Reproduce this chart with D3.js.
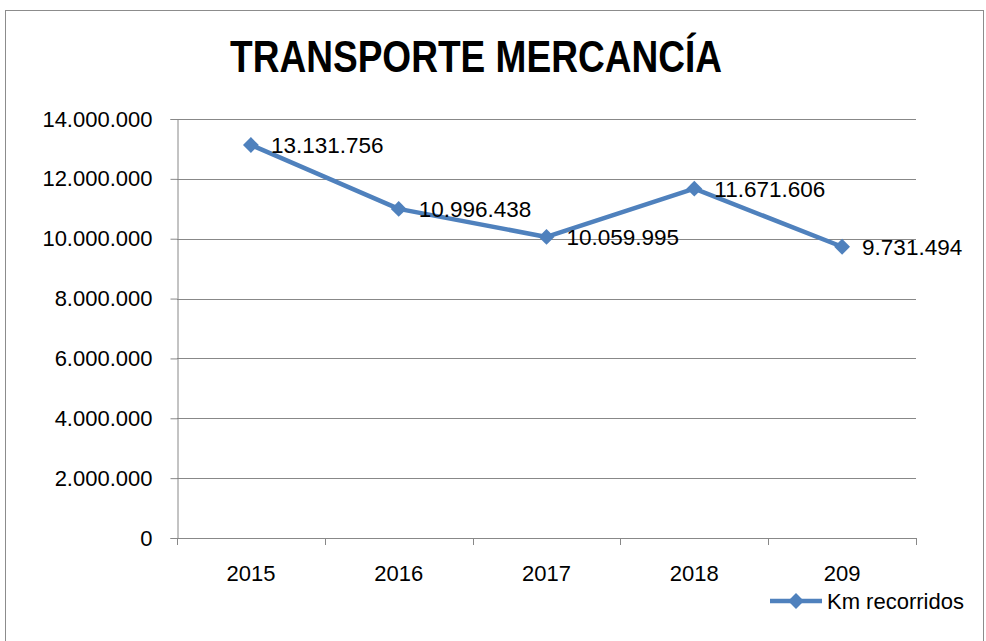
<!DOCTYPE html>
<html>
<head>
<meta charset="utf-8">
<script src="https://cdn.jsdelivr.net/npm/d3@7"></script>
<style>
  body { margin: 0; background: #fff; }
  svg text { font-family: "Liberation Sans", sans-serif; fill: #000; }
</style>
</head>
<body>
<svg id="chart" width="986" height="641"></svg>
<script>
// data
const years = ["2015", "2016", "2017", "2018", "209"];
const kmRecorridos = [13131756, 10996438, 10059995, 11671606, 9731494];
const yTicks = [0, 2000000, 4000000, 6000000, 8000000, 10000000, 12000000, 14000000];
const seriesName = "Km recorridos";
const chartTitle = "TRANSPORTE MERCANCÍA";

const blue = "#4f81bd";
const grid = "#888888";

const svg = d3.select("#chart");

// outer frame
svg.append("rect")
  .attr("x", 5.5).attr("y", 10.5)
  .attr("width", 978).attr("height", 640)
  .attr("fill", "none").attr("stroke", "#8c8c8c");

const plot = { left: 177, right: 916, top: 119, bottom: 538 };

const x = d3.scaleBand().domain(years).range([plot.left, plot.right]);
const y = d3.scaleLinear().domain([0, 14000000]).range([plot.bottom, plot.top]);

const fmt = (v) => d3.format(",")(v).replace(/,/g, ".");

svg.append("text")
  .attr("x", 230).attr("y", 72)
  .attr("textLength", 492)
  .attr("lengthAdjust", "spacingAndGlyphs")
  .style("font-size", "44px")
  .style("font-weight", "bold")
  .text(chartTitle);

// gridlines
svg.append("g")
  .selectAll("line")
  .data(yTicks.slice(1))
  .join("line")
  .attr("x1", plot.left).attr("x2", plot.right)
  .attr("y1", (d) => Math.round(y(d)) + 0.5)
  .attr("y2", (d) => Math.round(y(d)) + 0.5)
  .attr("stroke", grid);

// y axis
const yAxis = svg.append("g")
  .attr("transform", `translate(${plot.left + 0.5},0)`)
  .call(d3.axisLeft(y).tickValues(yTicks).tickFormat(fmt).tickSize(7).tickPadding(18));
yAxis.selectAll("path, line").attr("stroke", grid);
yAxis.selectAll("text").style("font-size", "22px").attr("font-family", null);

// x axis with ticks at category boundaries
svg.append("line")
  .attr("x1", plot.left).attr("x2", plot.right)
  .attr("y1", plot.bottom + 0.5).attr("y2", plot.bottom + 0.5)
  .attr("stroke", grid);
const bounds = years.map((d) => x(d)).concat([plot.right]);
svg.append("g")
  .selectAll("line")
  .data(bounds)
  .join("line")
  .attr("x1", (d) => Math.round(d) + 0.5).attr("x2", (d) => Math.round(d) + 0.5)
  .attr("y1", plot.bottom).attr("y2", plot.bottom + 7)
  .attr("stroke", grid);
svg.append("g")
  .selectAll("text")
  .data(years)
  .join("text")
  .attr("x", (d) => x(d) + x.bandwidth() / 2)
  .attr("y", 581)
  .attr("text-anchor", "middle")
  .style("font-size", "22px")
  .text((d) => d);

// series
const pts = years.map((d, i) => ({ cat: d, v: kmRecorridos[i] }));
const cx = (d) => x(d.cat) + x.bandwidth() / 2;

svg.append("path")
  .datum(pts)
  .attr("fill", "none")
  .attr("stroke", blue)
  .attr("stroke-width", 4.5)
  .attr("stroke-linejoin", "round")
  .attr("d", d3.line().x(cx).y((d) => y(d.v)));

const diamond = d3.symbol().type(d3.symbolDiamond2).size(160);
svg.append("g")
  .selectAll("path")
  .data(pts)
  .join("path")
  .attr("transform", (d) => `translate(${cx(d)},${y(d.v)})`)
  .attr("d", diamond)
  .attr("fill", blue);

svg.append("g")
  .selectAll("text")
  .data(pts)
  .join("text")
  .attr("x", (d) => cx(d) + 20)
  .attr("y", (d) => y(d.v) + 8)
  .style("font-size", "22.5px")
  .text((d) => fmt(d.v));

// legend
const lg = svg.append("g").attr("transform", "translate(770,601)");
lg.append("line")
  .attr("x1", 0).attr("x2", 52)
  .attr("stroke", blue).attr("stroke-width", 4.5);
lg.append("path")
  .attr("transform", "translate(26,0)")
  .attr("d", diamond)
  .attr("fill", blue);
lg.append("text")
  .attr("x", 57).attr("y", 8)
  .style("font-size", "22px")
  .text(seriesName);
</script>
</body>
</html>
